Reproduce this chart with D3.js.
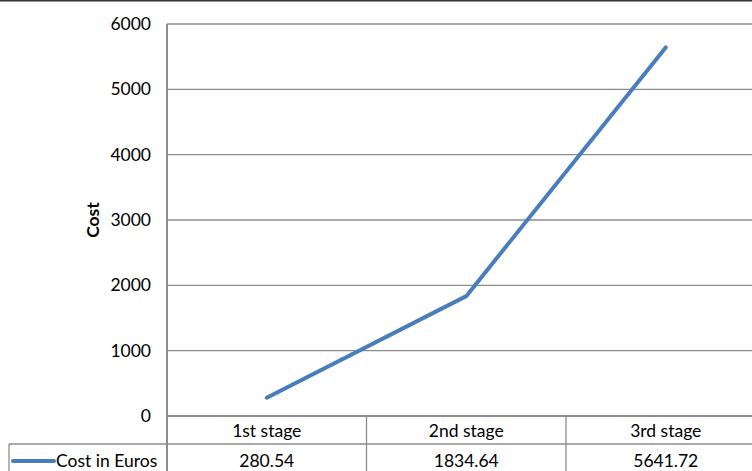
<!DOCTYPE html>
<html>
<head>
<meta charset="utf-8">
<script src="https://cdn.jsdelivr.net/npm/d3@7"></script>
<style>
body { margin: 0; background: #fff; }
svg { display: block; font-family: Lato, "Open Sans", sans-serif; }
</style>
</head>
<body>
<svg width="752" height="471"></svg>
<script>
const stages = ["1st stage", "2nd stage", "3rd stage"];
const costs = [280.54, 1834.64, 5641.72];
const costLabels = ["280.54", "1834.64", "5641.72"];
const yTicks = [0, 1000, 2000, 3000, 4000, 5000, 6000];
const seriesName = "Cost in Euros";

let svg = d3.select("svg");

var margin = { top: 24, left: 167, bottom: 416 },
    bandW = 199.5,
    fs = "17.5px";

// top frame line
svg.append("line")
    .attr("x1", 0).attr("x2", 752)
    .attr("y1", 0.5).attr("y2", 0.5)
    .attr("stroke", "#333").attr("stroke-width", 2);

var x = d3.scaleBand()
    .domain(stages)
    .range([margin.left, margin.left + bandW * stages.length]);

var y = d3.scaleLinear()
    .domain([0, 6000])
    .range([margin.bottom, margin.top]);

// gridlines
svg.append("g")
    .selectAll("line")
    .data(yTicks)
    .enter()
    .append("line")
    .attr("x1", margin.left)
    .attr("x2", 752)
    .attr("y1", d => y(d))
    .attr("y2", d => y(d))
    .attr("stroke", "#8c8c8c")
    .attr("stroke-width", d => d === 0 ? 2 : 1.3);

// y axis line
svg.append("line")
    .attr("x1", margin.left).attr("x2", margin.left)
    .attr("y1", margin.top).attr("y2", 471)
    .attr("stroke", "#8c8c8c").attr("stroke-width", 2);

// y tick labels
svg.append("g")
    .selectAll("text")
    .data(yTicks)
    .enter()
    .append("text")
    .attr("x", 151)
    .attr("y", d => y(d))
    .attr("dy", "0.35em")
    .style("text-anchor", "end")
    .style("font-size", fs)
    .style("fill", "#000")
    .text(d => d);

// y axis title
svg.append("text")
    .attr("transform", "translate(99," + y(3000) + ") rotate(-90)")
    .style("text-anchor", "middle")
    .style("font-size", fs)
    .style("font-weight", "bold")
    .text("Cost");

// data table
var rowY = 444;
svg.append("line")
    .attr("x1", 9).attr("x2", 752)
    .attr("y1", rowY).attr("y2", rowY)
    .attr("stroke", "#8c8c8c").attr("stroke-width", 1.3);
svg.append("line")
    .attr("x1", 9).attr("x2", 9)
    .attr("y1", rowY).attr("y2", 471)
    .attr("stroke", "#8c8c8c").attr("stroke-width", 1.3);

svg.append("g")
    .selectAll("line")
    .data(stages.slice(1))
    .enter()
    .append("line")
    .attr("x1", d => x(d)).attr("x2", d => x(d))
    .attr("y1", margin.bottom).attr("y2", 471)
    .attr("stroke", "#8c8c8c").attr("stroke-width", 1.3);

svg.append("g")
    .selectAll("text")
    .data(stages)
    .enter()
    .append("text")
    .attr("x", d => x(d) + x.bandwidth() / 2)
    .attr("y", 437)
    .style("text-anchor", "middle")
    .style("font-size", fs)
    .text(d => d);

svg.append("g")
    .selectAll("text")
    .data(costLabels)
    .enter()
    .append("text")
    .attr("x", (d, i) => x(stages[i]) + x.bandwidth() / 2)
    .attr("y", 467)
    .style("text-anchor", "middle")
    .style("font-size", fs)
    .text(d => d);

// legend key
svg.append("line")
    .attr("x1", 13).attr("x2", 54)
    .attr("y1", 461).attr("y2", 461)
    .attr("stroke", "#4a7ebb").attr("stroke-width", 4)
    .attr("stroke-linecap", "round");
svg.append("text")
    .attr("x", 56)
    .attr("y", 467)
    .style("font-size", fs)
    .text(seriesName);

// series line
var line = d3.line()
    .x((d, i) => x(stages[i]) + x.bandwidth() / 2)
    .y(d => y(d));

svg.append("path")
    .datum(costs)
    .attr("d", line)
    .attr("fill", "none")
    .attr("stroke", "#4a7ebb")
    .attr("stroke-width", 4)
    .attr("stroke-linecap", "round")
    .attr("stroke-linejoin", "round");
</script>
</body>
</html>
